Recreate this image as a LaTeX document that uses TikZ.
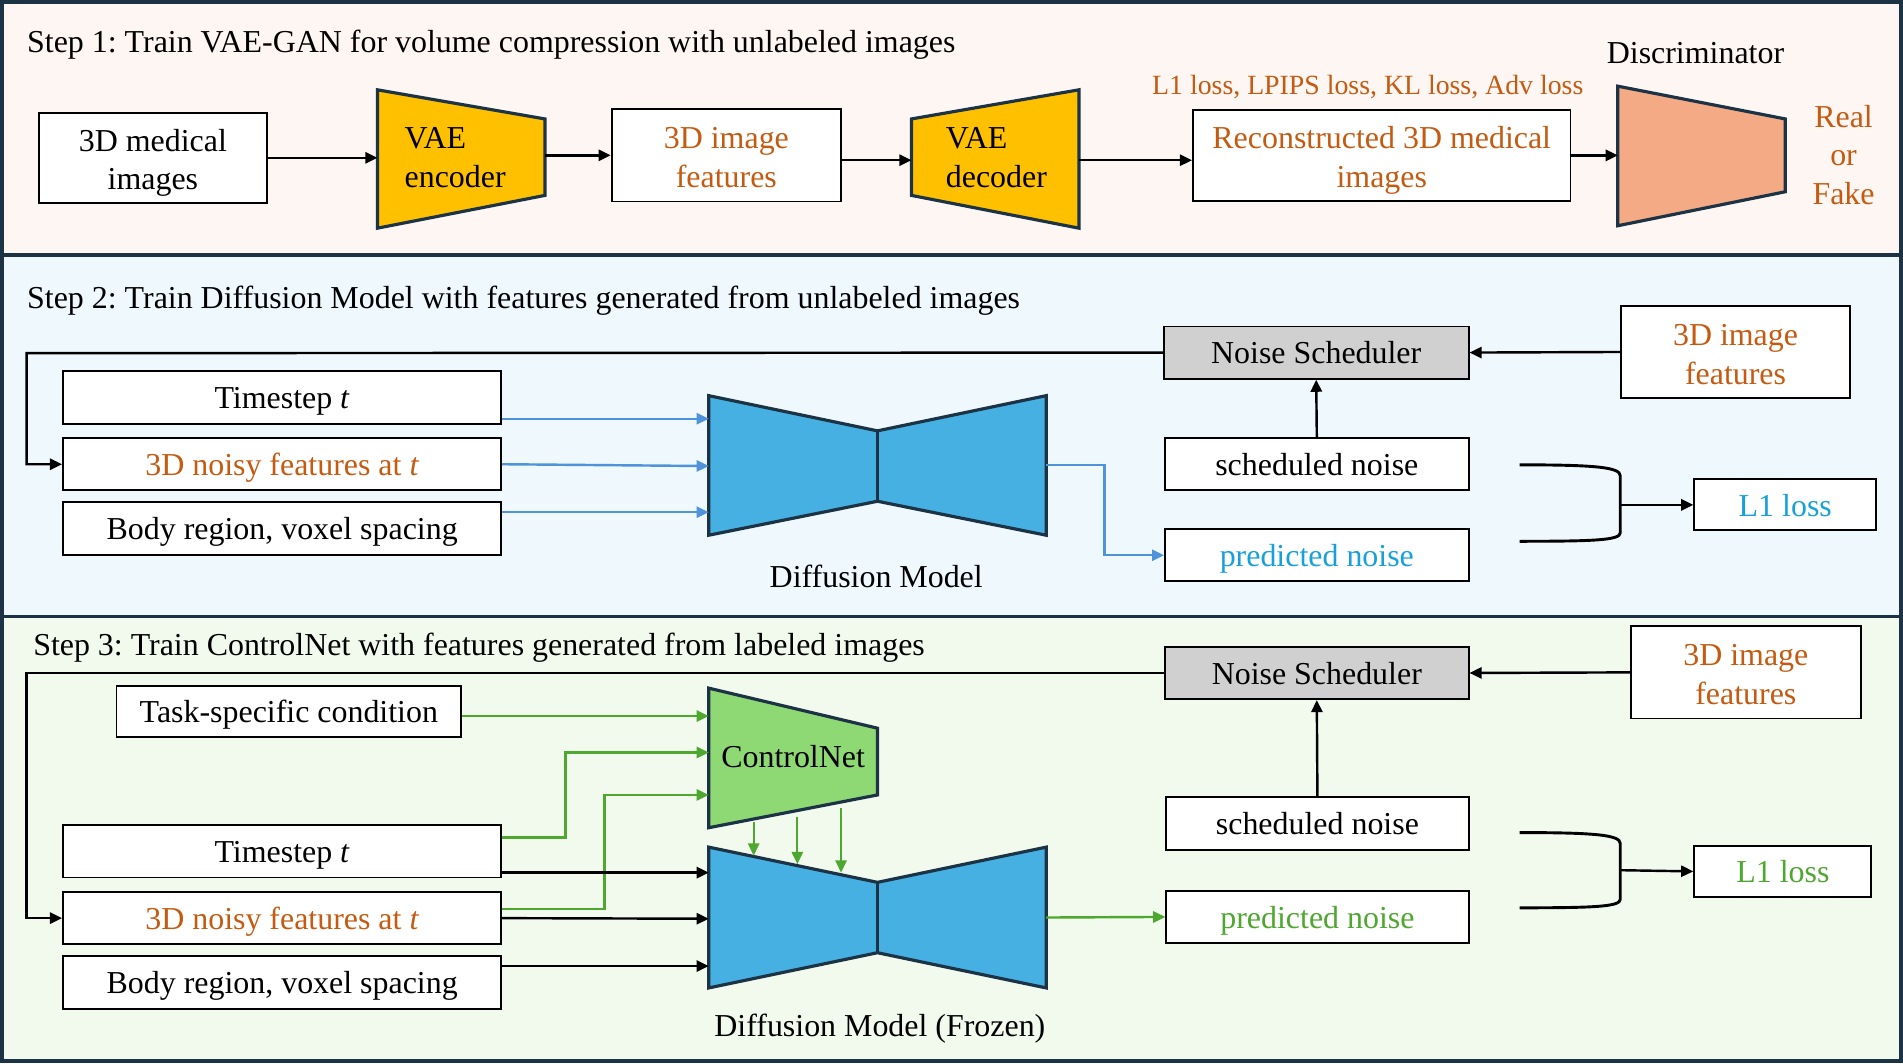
\documentclass[tikz,border=0pt]{standalone}
\usepackage{fontspec}
\setmainfont{Liberation Serif}
\frenchspacing
\usetikzlibrary{arrows.meta}
\newcommand{\firstln}{\rule{0pt}{14bp}}

\definecolor{frame}{HTML}{1C3345}
\definecolor{pinkbg}{HTML}{FEF6F3}
\definecolor{bluebg}{HTML}{EEF8FD}
\definecolor{greenbg}{HTML}{F2FAEE}
\definecolor{rust}{HTML}{C55A11}
\definecolor{skytxt}{HTML}{18A0DB}
\definecolor{leaf}{HTML}{4EA72E}
\definecolor{bluearr}{HTML}{4F93DA}
\definecolor{vaefill}{HTML}{FFC000}
\definecolor{discfill}{HTML}{F4AA84}
\definecolor{unetfill}{HTML}{45B0E1}
\definecolor{ctrlfill}{HTML}{8ED973}
\definecolor{schedfill}{HTML}{D0D0D0}

\tikzset{
  lbl/.style={align=center, inner sep=0pt, font=\fontsize{13.2}{16}\selectfont,
              execute at begin node={\rule{0pt}{12.7bp}},
              execute at end node={\rule[-3.5bp]{0pt}{3.5bp}}},
  box/.style={lbl, draw=black, fill=white, line width=0.8bp},
  net/.style={draw=frame, line width=1.3bp, line join=miter},
  arr/.style={-{Triangle[length=5bp,width=4.6bp]}, line width=1bp},
  barr/.style={arr, color=bluearr},
  garr/.style={arr, color=leaf},
}

\begin{document}
\begin{tikzpicture}[x=0.5bp, y=-0.5bp]
  \useasboundingbox (0,0) rectangle (1568,876);
  % panels
  \fill[pinkbg]  (1.6,1.6) rectangle (1566.4,210);
  \fill[bluebg]  (1.6,210) rectangle (1566.4,508);
  \fill[greenbg] (1.6,508) rectangle (1566.4,874.4);
  \draw[frame, line width=1.6bp] (1.6,1.6) rectangle (1566.4,874.4)
       (1.6,210) -- (1566.4,210) (1.6,508) -- (1566.4,508);

  \node[lbl, anchor=west] (title1) at (22,34)  {Step 1: Train VAE-GAN for volume compression with unlabeled images};
  \node[lbl, anchor=west] (title2) at (22,245) {Step 2: Train Diffusion Model with features generated from unlabeled images};
  \node[lbl, anchor=west] (title3) at (27,531) {Step 3: Train ControlNet with features generated from labeled images};

  % step 1
  \node[box, minimum width=94bp, minimum height=37bp] (img1) at (126,130) {\firstln 3D medical\\images};
  \draw[net, fill=vaefill] (311,74) coordinate (enc-nw) -- (449,98) -- (449,161) coordinate (enc-se)
       -- (311,188) -- cycle;
  \node[lbl, align=left, anchor=west] (enc) at (333,133.5) {VAE\\encoder};
  \node[box, minimum width=94.5bp, minimum height=38bp, text=rust] (feat1) at (598.5,128) {\firstln 3D image\\features};
  \draw[net, fill=vaefill] (751,98) coordinate (dec-nw) -- (889,74) coordinate (dec-ne) -- (889,188)
       -- (751,161) -- cycle;
  \node[lbl, align=left, anchor=west] (dec) at (779,133.5) {VAE\\decoder};
  \node[box, minimum width=155.5bp, minimum height=37.5bp, text=rust] (recon) at (1138.5,128)
       {\firstln Reconstructed 3D medical\\images};
  \node[lbl, text=rust, font=\fontsize{11.5}{14}\selectfont] (loss1) at (1127,69)
       {L1 loss, LPIPS loss, KL loss, Adv loss};
  \draw[net, fill=discfill] (1333,71) coordinate (disc-nw) -- (1471,98) -- (1471,158) -- (1333,186) -- cycle;
  \node[lbl] (disc) at (1397,43) {Discriminator};
  \node[lbl, text=rust] (rf) at (1519,131) {Real\\or\\Fake};

  \draw[arr] (img1.east) -- (img1.east -| enc-nw);
  \draw[arr] (enc-se |- feat1.west) -- (feat1.west);
  \draw[arr] (feat1.east |- 0,132) -- (dec-nw |- 0,132);
  \draw[arr] (dec-ne |- 0,132) -- (recon.west |- 0,132);
  \draw[arr] (recon.east) -- (recon.east -| disc-nw);

  % step 2
  \node[box, fill=schedfill, minimum width=125.5bp, minimum height=21.5bp] (sched2) at (1084.5,290.5) {Noise Scheduler};
  \node[box, minimum width=94bp, minimum height=38bp, text=rust] (feat2) at (1430,290) {\firstln 3D image\\features};
  \node[box, minimum width=180.5bp, minimum height=21.5bp] (ts2) at (232.5,327.5) {Timestep \textit{t}};
  \node[box, minimum width=180.5bp, minimum height=21.5bp, text=rust] (noisy2) at (232.5,382.5) {3D noisy features at \textit{t}};
  \node[box, minimum width=180.5bp, minimum height=21.5bp] (body2) at (232.5,435.5) {Body region, voxel spacing};
  \draw[net, fill=unetfill] (584,326) coordinate (dm2-nw) -- (723,355) -- (862,326) -- (862,441)
       -- (723,413) -- (584,441) -- cycle;
  \draw[net] (723,355) -- (723,413);
  \coordinate (dm2-e) at (862,383);
  \node[lbl] (dm2) at (722,475) {Diffusion Model};
  \node[box, minimum width=125bp, minimum height=21.5bp] (snoise2) at (1085,382.5) {scheduled noise};
  \node[box, minimum width=125bp, minimum height=21.5bp, text=skytxt] (pnoise2) at (1085,457.5) {predicted noise};
  \node[box, minimum width=75bp, minimum height=21bp, text=skytxt] (loss2) at (1471,416) {L1 loss};

  \draw[arr] (feat2.west) -- (sched2.east);
  \coordinate (loop2) at (22,291);
  \draw[arr] (sched2.west) -- (loop2) |- (noisy2.west);
  \draw[arr] (snoise2.north) -- (sched2.south);
  \draw[barr] (ts2.east |- 0,345) -- (dm2-nw |- 0,345);
  \draw[barr] (noisy2.east) -- (dm2-nw |- 0,384);
  \draw[barr] (body2.east |- 0,422) -- (dm2-nw |- 0,422);
  \draw[barr] (dm2-e) -- ++(48,0) |- (pnoise2.west);
  \draw[line width=1.2bp] (1252,383) .. controls (1315,383) and (1335,385) .. (1335,392)
       -- (1335,439) .. controls (1335,445) and (1315,446) .. (1252,446);
  \coordinate (join2) at (1335,416);
  \draw[arr] (join2) -- (loss2.west);

  % step 3
  \node[box, fill=schedfill, minimum width=125bp, minimum height=21.5bp] (sched3) at (1085,554.5) {Noise Scheduler};
  \node[box, minimum width=94.5bp, minimum height=38bp, text=rust] (feat3) at (1438.5,554) {\firstln 3D image\\features};
  \node[box, minimum width=142bp, minimum height=21bp] (cond3) at (238,586) {Task-specific condition};
  \node[box, minimum width=180.5bp, minimum height=21.5bp] (ts3) at (232.5,701.5) {Timestep \textit{t}};
  \node[box, minimum width=180.5bp, minimum height=21.5bp, text=rust] (noisy3) at (232.5,756.5) {3D noisy features at \textit{t}};
  \node[box, minimum width=180.5bp, minimum height=21.5bp] (body3) at (232.5,809.5) {Body region, voxel spacing};
  \draw[net, fill=ctrlfill] (584,567) coordinate (cn-nw) -- (723,600) -- (723,655) -- (584,682) -- cycle;
  \node[lbl] (cn) at (653.5,623) {ControlNet};
  \draw[net, fill=unetfill] (584,698) coordinate (dm3-nw) -- (723,727) -- (862,698) -- (862,814)
       -- (723,785) -- (584,814) -- cycle;
  \draw[net] (723,727) -- (723,785);
  \coordinate (dm3-e) at (862,756);
  \node[lbl] (dm3) at (725,845) {Diffusion Model (Frozen)};
  \node[box, minimum width=124.5bp, minimum height=21.5bp] (snoise3) at (1085.5,678.5) {scheduled noise};
  \node[box, minimum width=124.5bp, minimum height=21.5bp, text=leaf] (pnoise3) at (1085.5,755.5) {predicted noise};
  \node[box, minimum width=73bp, minimum height=21bp, text=leaf] (loss3) at (1469,718) {L1 loss};

  \draw[arr] (feat3.west) -- (sched3.east);
  \coordinate (loop3) at (22,554.5);
  \draw[arr] (sched3.west) -- (loop3) |- (noisy3.west);
  \draw[arr] (snoise3.north) -- (sched3.south);
  \draw[garr] (cond3.east |- 0,590) -- (cn-nw |- 0,590);
  \draw[garr] (ts3.east |- 0,690) -| (466,620) -- (cn-nw |- 0,620);
  \draw[garr] (noisy3.east |- 0,749) -| (498,655) -- (cn-nw |- 0,655);
  \draw[arr] (ts3.east |- 0,719) -- (dm3-nw |- 0,719);
  \draw[arr] (noisy3.east) -- (dm3-nw |- 0,757);
  \draw[arr] (body3.east |- 0,796) -- (dm3-nw |- 0,796);
  \foreach \x/\a/\b in {621/677/705, 657/673/712, 693/666/719}
    \draw[garr, line width=0.8bp] (\x,\a) -- (\x,\b);
  \draw[garr] (dm3-e) -- (pnoise3.west);
  \draw[line width=1.2bp] (1252,686) .. controls (1315,686) and (1335,688) .. (1335,695)
       -- (1335,741) .. controls (1335,747) and (1315,748) .. (1252,748);
  \coordinate (join3) at (1335,717);
  \draw[arr] (join3) -- (loss3.west);
\end{tikzpicture}
\end{document}
